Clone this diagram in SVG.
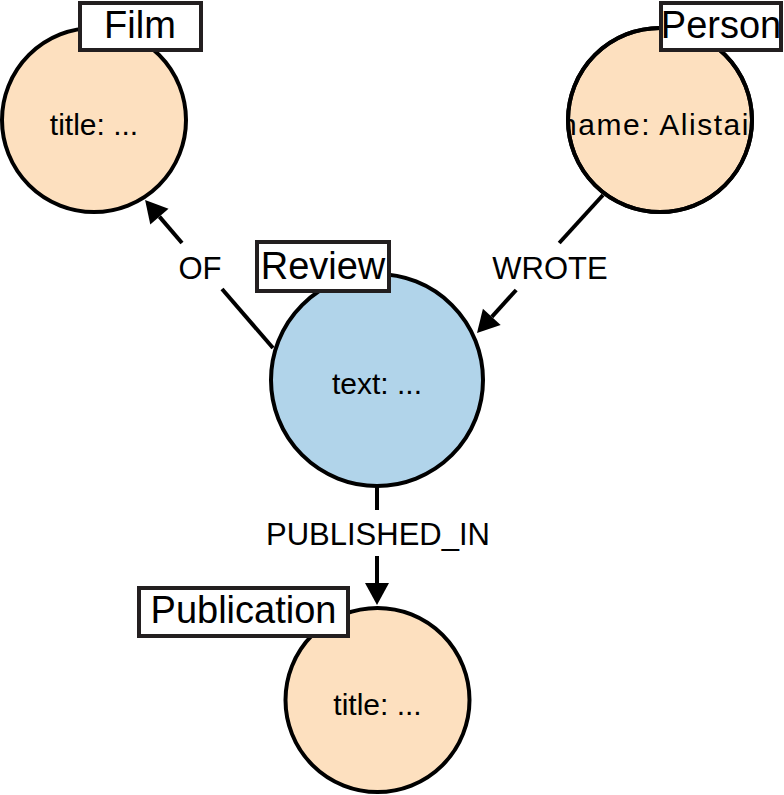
<svg xmlns="http://www.w3.org/2000/svg" width="784" height="795" viewBox="0 0 784 795">
<style>
.peach{fill:#fde0bf;stroke:#000;stroke-width:4}
.blue{fill:#b1d4ea;stroke:#000;stroke-width:4}
.lbl{fill:#fff;stroke:#231f20;stroke-width:4}
.lt{font-family:"Liberation Sans",Arial,sans-serif;font-size:38px;fill:#000;text-anchor:middle}
.nt{font-family:"Liberation Sans",Arial,sans-serif;font-size:30px;fill:#000;text-anchor:middle}
.et{font-family:"Liberation Sans",Arial,sans-serif;font-size:31px;fill:#000;text-anchor:middle}
.edge{stroke:#000;stroke-width:4;fill:none}
</style>
<defs>
<marker id="arr" markerUnits="userSpaceOnUse" markerWidth="23" markerHeight="26" viewBox="0 -13 23 26" refX="0" refY="0" orient="auto" overflow="visible">
<path d="M0,-12 L22,0 L0,12 z" fill="#000"/>
</marker>
<clipPath id="cpPerson"><circle cx="660" cy="120" r="92"/></clipPath>
</defs>
<g id="connectors">
<g id="edge-of">
<line class="edge" x1="273" y1="348" x2="222" y2="289"/>
<line class="edge" x1="182" y1="243" x2="159.4" y2="216.6" marker-end="url(#arr)"/>
<text class="et" x="200" y="279">OF</text>
</g>
<g id="edge-wrote">
<line class="edge" x1="603" y1="195" x2="559.2" y2="243"/>
<line class="edge" x1="516.2" y1="290" x2="491.8" y2="316.8" marker-end="url(#arr)"/>
<text class="et" x="550" y="279">WROTE</text>
</g>
<g id="edge-published">
<line class="edge" x1="377" y1="486" x2="377" y2="510"/>
<line class="edge" x1="377" y1="556" x2="377" y2="583" marker-end="url(#arr)"/>
<text class="et" x="378" y="545">PUBLISHED_IN</text>
</g>
</g>
<g id="film">
<circle class="peach" cx="94" cy="120" r="92"/>
<text class="nt" x="94" y="135">title: ...</text>
<rect class="lbl" x="80" y="3" width="121" height="47"/>
<text class="lt" x="140" y="38">Film</text>
</g>
<g id="person">
<circle class="peach" cx="660" cy="120" r="92"/>
<text class="nt" x="660" y="135" clip-path="url(#cpPerson)" textLength="200" lengthAdjust="spacing">name: Alistair</text>
<circle cx="660" cy="120" r="92" fill="none" stroke="#000" stroke-width="4"/>
<rect class="lbl" x="661" y="3" width="120" height="47"/>
<text class="lt" x="721" y="38">Person</text>
</g>
<g id="review">
<circle class="blue" cx="377" cy="380" r="106"/>
<text class="nt" x="377" y="394">text: ...</text>
<rect class="lbl" x="257" y="242" width="132" height="49"/>
<text class="lt" x="323" y="279">Review</text>
</g>
<g id="publication">
<circle class="peach" cx="377.5" cy="700" r="92"/>
<text class="nt" x="377.5" y="715">title: ...</text>
<rect class="lbl" x="139" y="588" width="209" height="48"/>
<text class="lt" x="243.5" y="623">Publication</text>
</g>
</svg>
